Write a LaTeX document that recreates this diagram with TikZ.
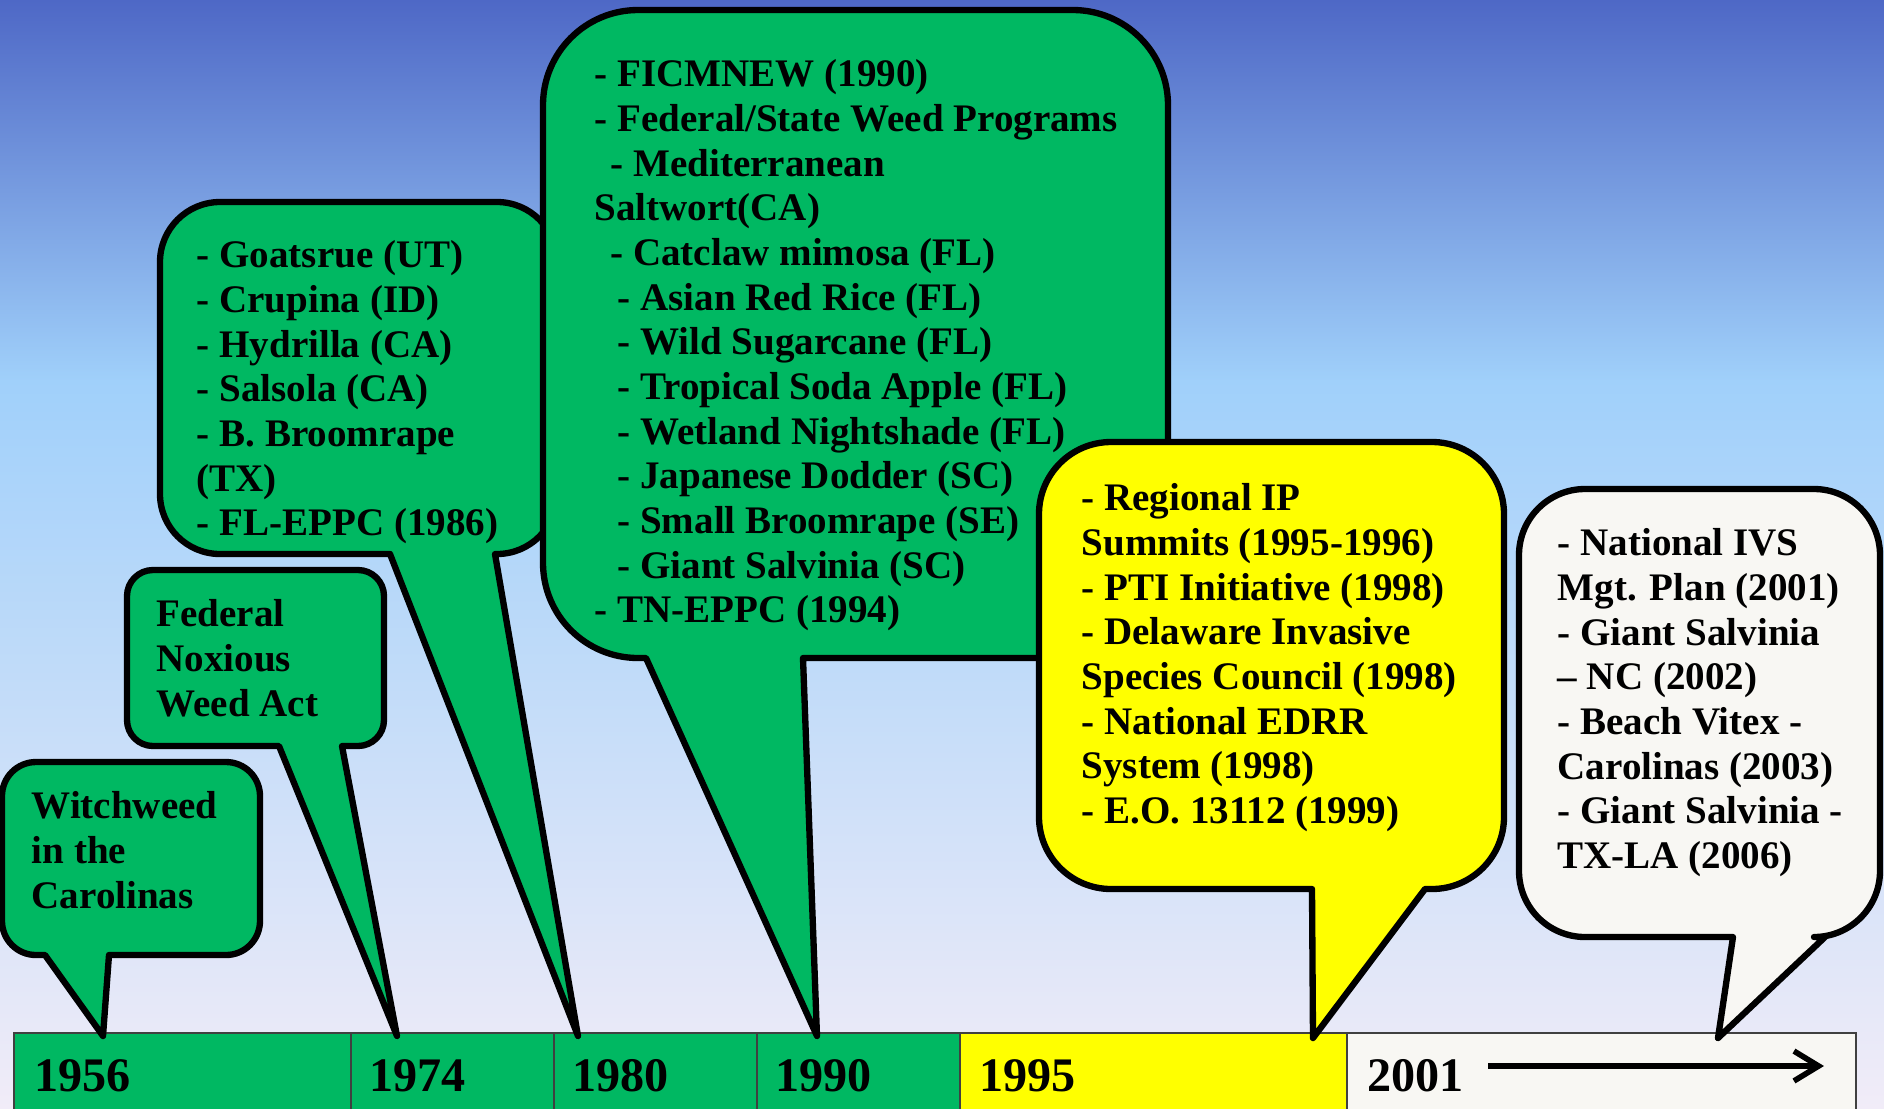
\documentclass[tikz,border=0pt]{standalone}
\usepackage{fontspec}
\setmainfont{Liberation Serif}
\usetikzlibrary{arrows.meta}
\definecolor{skytop}{RGB}{78,104,198}
\definecolor{skymid}{RGB}{160,208,250}
\definecolor{skylow}{RGB}{241,236,248}
\definecolor{weedgreen}{RGB}{0,184,98}
\definecolor{weedyellow}{RGB}{255,255,0}
\definecolor{weedwhite}{RGB}{248,247,243}
\tikzset{
  bubble/.style={draw=black, line width=1.8pt, line join=round},
  bubbletext/.style={anchor=north west, inner sep=0pt, align=left, font=\fontsize{11.1}{12.7}\selectfont\bfseries},
  yearcell/.style={draw=black!75, line width=0.5pt},
  yearlabel/.style={anchor=base west, inner sep=0pt, font=\fontsize{13.7}{16}\selectfont\bfseries}
}
\begin{document}
\begin{tikzpicture}[x=0.01cm,y=-0.01cm]
 	\useasboundingbox (0,0) rectangle (1884,1108);
 	\shade [top color=skytop, bottom color=skymid] (0,0) rectangle (1884,381);
 	\shade [top color=skymid, bottom color=skylow] (0,380) rectangle (1884,1108);

 	\draw [yearcell, fill=weedgreen] (14,1033) rectangle (351,1120);
 	\draw [yearcell, fill=weedgreen] (351,1033) rectangle (554,1120);
 	\draw [yearcell, fill=weedgreen] (554,1033) rectangle (757,1120);
 	\draw [yearcell, fill=weedgreen] (757,1033) rectangle (960,1120);
 	\draw [yearcell, fill=weedyellow] (960,1033) rectangle (1347,1120);
 	\draw [yearcell, fill=weedwhite] (1347,1033) rectangle (1856,1120);

 	\node [yearlabel] (y56) at (34,1091) {1956};
 	\node [yearlabel] (y74) at (369,1091) {1974};
 	\node [yearlabel] (y80) at (572,1091) {1980};
 	\node [yearlabel] (y90) at (775,1091) {1990};
 	\node [yearlabel] (y95) at (979,1091) {1995};
 	\node [yearlabel] (y01) at (1367,1091) {2001};

 	\coordinate (arrS) at (1488,1066);
 	\coordinate (arrE) at (1824,1066);
 	\draw [line width=1.6pt, -{Straight Barb[length=7pt,width=8.5pt]}] (arrS) -- (arrE);

 	\coordinate (t56) at (103,1036);
 	\coordinate (t74) at (397,1036);
 	\coordinate (t80) at (578,1036);
 	\coordinate (t90) at (817,1036);
 	\coordinate (t95) at (1313,1038);
 	\coordinate (t01) at (1718,1038);

 	\draw [bubble, fill=weedgreen, rounded corners=0.34cm] (45,955) -- (2,955) -- (2,762) -- (260,762) -- (260,955) [sharp corners] -- (109,955) -- (t56) -- cycle;
 	\draw [bubble, fill=weedgreen, rounded corners=0.26cm] (279,746) -- (127,746) -- (127,570) -- (384,570) -- (384,746) [sharp corners] -- (342,746) -- (t74) -- cycle;
 	\draw [bubble, fill=weedgreen, rounded corners=0.6cm] (390,554) -- (160,554) -- (160,202) -- (557,202) -- (557,554) [sharp corners] -- (495,554) -- (t80) -- cycle;
 	\draw [bubble, fill=weedgreen, rounded corners=0.95cm] (646,658) -- (543,658) -- (543,10) -- (1168,10) -- (1168,658) [sharp corners] -- (803,658) -- (t90) -- cycle;
 	\draw [bubble, fill=weedyellow, rounded corners=0.72cm] (1312,889) -- (1039,889) -- (1039,442) -- (1504,442) -- (1504,889) [sharp corners] -- (1425,889) -- (t95) -- cycle;
 	\draw [bubble, fill=weedwhite, rounded corners=0.66cm] (1733,937) -- (1519,937) -- (1519,489) -- (1880,489) -- (1880,937) [sharp corners] -- (1825,937) -- (t01) -- cycle;

 	\node [bubbletext] (witch) at (31,791) {Witchweed\\in the\\Carolinas};
 	\node [bubbletext] (noxious) at (156,599) {Federal\\Noxious\\Weed Act};
 	\node [bubbletext] (goats) at (196,240) {- Goatsrue (UT)\\- Crupina (ID)\\- Hydrilla (CA)\\- Salsola (CA)\\- B. Broomrape\\(TX)\\- FL-EPPC (1986)};
 	\node [bubbletext] (ficm) at (594,59) {- FICMNEW (1990)\\- Federal/State Weed Programs\\\hspace*{4.5pt}- Mediterranean\\Saltwort(CA)\\\hspace*{4.5pt}- Catclaw mimosa (FL)\\\hspace*{6.5pt}- Asian Red Rice (FL)\\\hspace*{6.5pt}- Wild Sugarcane (FL)\\\hspace*{6.5pt}- Tropical Soda Apple (FL)\\\hspace*{6.5pt}- Wetland Nightshade (FL)\\\hspace*{6.5pt}- Japanese Dodder (SC)\\\hspace*{6.5pt}- Small Broomrape (SE)\\\hspace*{6.5pt}- Giant Salvinia (SC)\\- TN-EPPC (1994)};
 	\node [bubbletext] (summits) at (1081,483) {- Regional IP\\Summits (1995-1996)\\- PTI Initiative (1998)\\- Delaware Invasive\\Species Council (1998)\\- National EDRR\\System (1998)\\- E.O. 13112 (1999)};
 	\node [bubbletext] (ivs) at (1557,528) {- National IVS\\Mgt. Plan (2001)\\- Giant Salvinia\\-- NC (2002)\\- Beach Vitex -\\Carolinas (2003)\\- Giant Salvinia -\\TX-LA (2006)};
\end{tikzpicture}
\end{document}
